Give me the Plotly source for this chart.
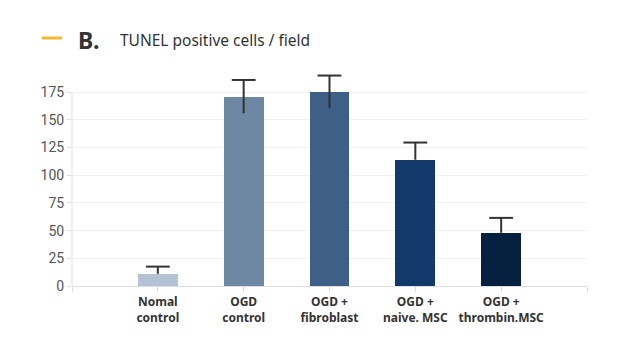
import plotly.graph_objects as go

categories = ["Nomal<br>control", "OGD<br>control", "OGD +<br>fibroblast", "OGD +<br>naive. MSC", "OGD +<br>thrombin.MSC"]
values = [11, 171, 175, 114, 48]
err_up = [6.5, 15, 15, 15.5, 13.5]
err_down = [0, 15, 14.5, 0, 0]
colors = ["#b4c3d3", "#6e88a3", "#3e5f86", "#12396a", "#051f3e"]
y_ticks = [0, 25, 50, 75, 100, 125, 150, 175]

positions = list(range(1, len(categories) + 1))
tops = [v + e for v, e in zip(values, err_up)]
spans = [u + d for u, d in zip(err_up, err_down)]

W, H = 630, 350
ML, MR, MT, MB = 72, 43, 70, 64
PW, PH = W - ML - MR, H - MT - MB

def px(x):
    return (x - ML) / PW

def py(y):
    return (H - MB - y) / PH

fig = go.Figure()
fig.add_trace(go.Bar(
    x=positions, y=values, width=0.465,
    marker=dict(color=colors, line=dict(width=0)),
    hoverinfo="skip", showlegend=False,
))
# error bar stems (no caps)
fig.add_trace(go.Scatter(
    x=positions, y=tops, mode="markers",
    marker=dict(size=1, opacity=0),
    error_y=dict(type="data", array=[0]*len(values), arrayminus=spans,
                 symmetric=False, color="#333333", thickness=2, width=0),
    hoverinfo="skip", showlegend=False,
))
# top caps
fig.add_trace(go.Scatter(
    x=positions, y=tops, mode="markers",
    marker=dict(symbol="line-ew", size=17, line=dict(color="#333333", width=2)),
    hoverinfo="skip", showlegend=False,
))

fig.update_layout(
    width=W, height=H,
    margin=dict(l=ML, r=MR, t=MT, b=MB),
    paper_bgcolor="white", plot_bgcolor="white",
    bargap=0,
    xaxis=dict(
        range=[0, 6], tickmode="array",
        tickvals=[0] + positions + [6],
        ticktext=[""] + categories + [""],
        tickfont=dict(family="Noto Sans", size=12, color="#333333", weight="bold"),
        showgrid=False, zeroline=False,
        showline=True, linecolor="#dddddd", linewidth=1,
        ticks="outside", ticklen=5, tickcolor="#dddddd",
    ),
    yaxis=dict(
        range=[0, 195], tickmode="array", tickvals=y_ticks,
        tickfont=dict(family="Roboto", size=14, color="#555555"),
        showgrid=True, gridcolor="#f0f0f0", gridwidth=1,
        zeroline=False, showline=False,
        ticks="outside", ticklen=4, tickcolor="#dddddd",
    ),
    shapes=[
        dict(type="line", xref="paper", yref="paper",
             x0=px(42), x1=px(62), y0=py(38), y1=py(38),
             line=dict(color="#f5b731", width=3)),
        dict(type="line", xref="paper", yref="y",
             x0=0, x1=0, y0=0, y1=y_ticks[-1],
             line=dict(color="#dddddd", width=1), layer="below"),
    ],
    annotations=[
        dict(text="<b>B.</b>", xref="paper", yref="paper", x=px(76), y=py(40),
             xanchor="left", yanchor="middle", showarrow=False,
             font=dict(family="Noto Sans", size=23, color="#333333")),
        dict(text="TUNEL positive cells / field", xref="paper", yref="paper",
             x=px(118), y=py(40), xanchor="left", yanchor="middle", showarrow=False,
             font=dict(family="Noto Sans", size=15.5, color="#333333")),
    ],
)

fig.write_html("out.html")
